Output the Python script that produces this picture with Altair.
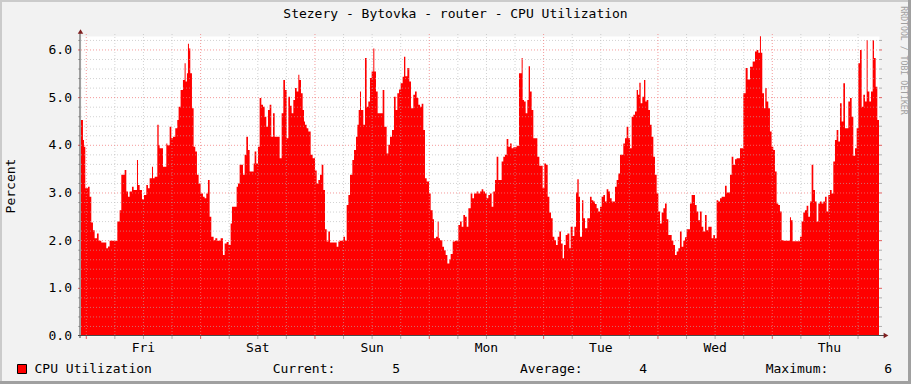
import altair as alt
import pandas as pd

MONO = "DejaVu Sans Mono"

# ---- data: hours since Friday 00:00, CPU utilization (%) ----
hours = [
    -1.12, -0.70, -0.49, -0.21, 0.35, 0.70, 1.05, 1.40, 1.75, 2.24, 2.59, 3.15, 4.20, 4.55, 4.90,
    6.51, 7.00, 7.35, 8.05, 8.40, 8.75, 9.10, 9.59, 9.94, 10.64, 10.85, 11.20, 11.69, 12.11, 12.60,
    12.95, 13.30, 13.79, 14.00, 14.35, 14.91, 15.19, 15.40, 16.10, 16.80, 17.01, 17.50, 17.85, 18.20,
    18.68, 19.10, 19.38, 19.80, 20.29, 20.64, 20.85, 21.13, 21.34, 21.55, 21.83, 22.18, 22.53, 22.88,
    23.23, 23.58, 24.00, 24.49, 24.84, 25.19, 25.54, 25.89, 26.24, 26.73, 27.08, 27.50, 28.20, 28.69,
    29.04, 29.46, 29.88, 30.30, 30.58, 31.56, 31.84, 32.19, 32.89, 33.24, 33.59, 33.94, 34.29, 35.13,
    35.34, 35.69, 36.04, 36.39, 36.74, 37.09, 37.44, 37.79, 38.14, 38.49, 38.84, 39.19, 39.54, 40.59,
    41.01, 41.36, 41.71, 42.06, 42.41, 42.76, 43.11, 43.46, 43.81, 44.16, 44.51, 44.72, 45.07, 45.42,
    45.70, 45.91, 46.26, 46.61, 47.10, 47.52, 48.01, 48.36, 48.71, 49.06, 49.41, 49.76, 50.11, 50.46,
    50.81, 51.16, 52.56, 52.91, 53.26, 53.96, 54.31, 54.66, 55.01, 55.36, 55.85, 56.20, 56.62, 56.90,
    57.18, 57.45, 57.66, 58.15, 58.50, 58.85, 59.20, 59.55, 59.90, 60.25, 60.46, 60.81, 61.16, 62.21,
    62.56, 63.05, 63.40, 63.75, 64.17, 64.59, 64.94, 65.29, 65.64, 65.99, 66.41, 66.69, 66.97, 67.39,
    67.81, 68.16, 68.65, 69.00, 69.35, 69.70, 70.05, 70.40, 70.75, 71.10, 71.45, 71.94, 72.29, 72.71,
    72.99, 73.41, 73.76, 73.97, 74.25, 74.74, 75.09, 75.44, 75.79, 76.21, 76.49, 76.91, 77.40, 78.10,
    78.45, 78.80, 79.15, 79.50, 79.85, 80.20, 80.69, 81.04, 81.39, 81.95, 82.30,
    82.64, 82.99, 83.34, 83.69, 84.04, 84.39, 84.74, 85.09, 85.44, 85.79, 86.14, 86.49, 87.19, 87.54,
    87.89, 88.24, 88.59, 88.94, 89.29, 89.64, 90.34, 90.83, 91.39, 91.60, 91.88, 92.23, 92.58, 92.86,
    93.14, 93.49, 93.84, 94.68, 95.10, 95.80, 96.15, 96.50, 96.85, 97.20, 97.55, 97.90, 98.25, 98.60,
    98.95, 99.30, 99.65, 100.00, 100.28, 100.63, 100.98, 101.40, 101.68, 102.10, 102.45, 102.80,
    103.08, 103.36, 103.64, 104.06, 104.34, 104.69, 105.17, 105.73, 106.08, 106.43, 106.78, 107.13,
    107.48, 107.83, 108.18, 108.53, 108.88, 109.23, 109.58, 109.93, 110.28, 110.98, 111.33, 111.68,
    112.03, 112.73, 113.08, 113.43, 113.78, 114.13, 114.48, 114.83, 115.18, 115.53, 115.81, 116.09,
    116.37, 116.72, 117.07, 117.35, 117.63, 117.98, 118.33, 118.68, 119.03, 119.38, 119.73, 120.08,
    120.43, 120.78, 121.13, 121.48, 121.83, 122.18, 122.88, 123.23, 123.58, 123.93, 124.28,
    124.62, 124.97, 125.32, 125.67, 126.02, 126.72, 127.07, 127.77, 128.12, 128.47, 128.82, 129.17,
    129.52, 129.87, 130.22, 130.57, 131.27, 131.62, 131.97, 132.32, 132.67, 133.02, 133.37, 134.07,
    134.42, 135.12, 135.47, 135.82, 136.17, 136.52, 137.22, 137.92, 138.41, 138.83, 139.32, 139.88,
    140.37, 140.72, 141.07, 141.41, 141.62, 141.90, 142.26, 142.53, 142.81, 143.16, 143.51, 143.86,
    144.21, 144.56, 144.91, 145.26, 145.61, 145.96, 146.31, 147.71, 147.92, 148.27, 149.81, 150.16,
    150.51, 150.86, 151.21, 151.56, 151.91, 152.26, 152.61, 152.96, 153.31, 153.66, 154.01, 154.36,
    154.71, 155.06, 155.41, 155.76, 156.11, 156.46, 156.81, 157.16, 157.51, 157.86, 158.21, 158.56,
    158.91, 159.26, 159.96, 160.31, 160.66, 161.01, 161.36, 161.71, 162.06, 162.41, 162.76, 163.11,
    163.46, 163.81, 164.02, 164.37, 164.72, 165.07, 165.35, 165.70, 166.05, 166.40,
]
cpu = [
    4.53, 4.11, 3.97, 3.10, 3.13, 2.92, 2.38, 2.22, 2.05, 2.15, 2.00, 1.96, 1.84, 1.88, 2.00,
    2.40, 2.64, 3.38, 3.48, 3.03, 2.92, 3.03, 3.13, 3.06, 3.69, 3.17, 3.06, 2.87, 2.96, 3.17,
    3.10, 3.31, 3.55, 3.31, 3.34, 4.43, 4.00, 3.94, 3.55, 4.04, 4.00, 4.39, 4.15, 4.18,
    4.36, 4.53, 4.81, 5.16, 5.37, 5.72, 5.34, 5.51, 6.13, 6.03, 5.51, 4.78, 3.97, 3.87,
    3.38, 3.20, 2.99, 2.92, 2.89, 2.99, 3.27, 2.50, 2.08, 2.01, 2.05, 2.00, 2.05, 1.70,
    1.94, 1.97, 1.91, 2.36, 2.71, 3.13, 3.20, 3.59, 3.38, 3.80, 4.18, 3.90, 3.45, 3.62,
    3.87, 3.62, 3.97, 4.99, 4.85, 4.81, 4.60, 4.39, 4.74, 4.85, 4.18, 4.67, 4.18, 3.73,
    4.67, 5.37, 5.16, 4.15, 5.02, 4.83, 4.67, 4.95, 5.20, 5.13, 5.48, 5.37, 5.09, 4.74,
    4.50, 4.43, 4.36, 4.29, 3.80, 3.73, 3.47, 3.20, 3.27, 3.38, 3.59, 3.06, 2.24, 1.98,
    2.19, 1.96, 1.87, 1.98, 2.00, 2.08, 2.00, 2.75, 2.96, 3.38, 3.69, 3.90, 4.18, 4.43,
    4.74, 5.13, 4.74, 4.43, 5.83, 4.81, 4.92, 5.41, 5.55, 6.03, 5.55, 5.13, 4.67, 5.16,
    4.39, 3.83, 4.01, 4.18, 4.32, 5.02, 4.74, 5.09, 5.17, 5.30, 5.44, 5.86, 5.45, 5.62,
    5.34, 4.78, 5.06, 5.13, 4.99, 4.85, 4.81, 4.87, 4.32, 3.31, 3.24, 2.99, 2.64, 2.45,
    2.05, 2.08, 2.40, 2.05, 2.01, 1.87, 1.80, 1.70, 1.52, 1.61, 1.72, 1.98, 2.00, 2.33,
    2.40, 2.29, 2.54, 2.50, 2.29, 2.68, 2.99, 2.89, 2.99, 3.03, 2.99,
    3.03, 3.08, 3.03, 2.99, 2.89, 2.96, 2.99, 2.71, 3.03, 3.27, 3.76, 3.27, 3.66, 3.76,
    3.80, 4.13, 3.97, 4.04, 3.94, 3.96, 3.99, 5.51, 5.83, 4.95, 4.92, 4.67, 4.95, 5.66,
    5.13, 4.74, 4.15, 3.76, 3.57, 3.10, 3.62, 3.59, 2.92, 2.59, 2.47, 2.08, 2.01, 1.91,
    2.08, 2.19, 1.94, 1.63, 1.91, 2.12, 2.15, 1.84, 2.29, 2.10, 2.29, 3.01,
    3.29, 2.92, 2.08, 2.85, 2.47, 2.26, 2.47, 2.92, 2.85, 2.82, 2.77, 2.68,
    2.61, 2.71, 2.92, 2.96, 2.82, 3.08, 3.03, 2.89, 2.82, 3.13, 3.27, 3.41,
    3.80, 4.04, 4.15, 4.39, 4.15, 3.94, 4.60, 4.64, 4.71, 5.16, 5.06, 5.31,
    4.88, 5.02, 5.37, 4.92, 4.95, 4.74, 4.43, 4.18, 3.76, 3.38, 2.99, 2.61,
    2.36, 2.59, 2.68, 2.78, 2.45, 2.12, 2.00, 1.91, 1.70, 1.77, 1.84,
    2.19, 1.87, 2.00, 2.07, 2.24, 2.78, 2.96, 2.75, 2.61, 2.43, 2.61, 2.29,
    2.19, 2.54, 2.22, 2.29, 2.05, 2.12, 2.05, 2.85, 2.82, 2.89, 2.92, 3.15,
    3.01, 3.38, 3.76, 3.59, 3.71, 3.73, 3.94, 5.09, 5.62, 5.38, 5.65, 5.76,
    5.97, 6.00, 5.94, 6.29, 5.94, 5.09, 4.78, 5.20, 4.92, 4.78, 4.29, 3.97,
    3.90, 3.45, 2.78, 2.75, 2.61, 2.01, 2.00, 2.49, 2.43, 1.99, 2.08, 2.40,
    2.59, 2.64, 2.73, 2.50, 2.82, 3.59, 3.06, 2.82, 2.40, 2.78, 2.82, 2.78,
    2.82, 2.92, 2.61, 2.96, 3.06, 2.99, 3.66, 4.11, 4.32, 4.08, 4.88, 4.50,
    5.30, 4.36, 4.92, 4.99, 4.60, 3.78, 3.94, 4.36, 5.72, 6.00, 4.81, 5.06,
    4.92, 6.21, 5.13, 4.92, 5.13, 6.21, 5.83, 5.23, 4.53, 4.53,
]

day_names = ["Fri", "Sat", "Sun", "Mon", "Tue", "Wed", "Thu"]
day_noon = [12, 36, 60, 84, 108, 132, 156]
major_x = [0, 24, 48, 72, 96, 120, 144]
minor_x = [6, 12, 18, 30, 36, 42, 54, 60, 66, 78, 84, 90, 102, 108, 114, 126, 132, 138, 150, 156, 162]
major_y = [1, 2, 3, 4, 5, 6]
minor_y = [round(i * 0.2, 1) for i in range(1, 32) if i % 5 != 0]
y_labels = [0, 1, 2, 3, 4, 5, 6]

title_text = "Stezery - Bytovka - router - CPU Utilization"
legend_name = "CPU Utilization"
stats = [("Current:", "5"), ("Average:", "4"), ("Maximum:", "6")]

W, H = 798, 300
xs = alt.Scale(domain=[-1.11, 166.4], nice=False, zero=False)
ys = alt.Scale(domain=[0, 6.293], nice=False, zero=False)

df = pd.DataFrame({"h": hours, "v": cpu})

area = alt.Chart(df).mark_area(color="#ff0000", interpolate="step-after", clip=True).encode(
    x=alt.X("h:Q", scale=xs, axis=None),
    y=alt.Y("v:Q", scale=ys, axis=None),
)

GRAY = "#b4b4b4"
RED = "#f07878"

def hgrid(vals, color, op):
    return alt.Chart(pd.DataFrame({"g": vals})).mark_rule(
        color=color, opacity=op, strokeDash=[1, 2], strokeWidth=1
    ).encode(y=alt.Y("g:Q", scale=ys, axis=None), x=alt.value(0), x2=alt.value(W))

def vgrid(vals, color, op):
    return alt.Chart(pd.DataFrame({"g": vals})).mark_rule(
        color=color, opacity=op, strokeDash=[1, 2], strokeWidth=1
    ).encode(x=alt.X("g:Q", scale=xs, axis=None), y=alt.value(-2), y2=alt.value(H))

def yticks(vals, color, x0, x1):
    return alt.Chart(pd.DataFrame({"g": vals})).mark_rule(color=color, strokeWidth=1).encode(
        y=alt.Y("g:Q", scale=ys, axis=None), x=alt.value(x0), x2=alt.value(x1))

def xticks(vals, color):
    return alt.Chart(pd.DataFrame({"g": vals})).mark_rule(color=color, strokeWidth=1).encode(
        x=alt.X("g:Q", scale=xs, axis=None), y=alt.value(H), y2=alt.value(H + 3))

one = pd.DataFrame({"t": [""]})

def text(t, x, y, align="left", size=13, color="#000000", angle=0, baseline="alphabetic"):
    return alt.Chart(pd.DataFrame({"t": [t]})).mark_text(
        align=align, baseline=baseline, font=MONO, fontSize=size, color=color, angle=angle
    ).encode(x=alt.value(x), y=alt.value(y), text="t:N")

def prule(x, x2, y, y2, color, width=1):
    return alt.Chart(one).mark_rule(color=color, strokeWidth=width).encode(
        x=alt.value(x), x2=alt.value(x2), y=alt.value(y), y2=alt.value(y2))

day_lbl = alt.Chart(pd.DataFrame({"h": day_noon, "d": day_names})).mark_text(
    font=MONO, fontSize=13, color="#000000", align="center", baseline="alphabetic"
).encode(x=alt.X("h:Q", scale=xs, axis=None), y=alt.value(316), text="d:N")

y_lbl = alt.Chart(pd.DataFrame({"v": y_labels})).mark_text(
    font=MONO, fontSize=13, color="#000000", align="right", baseline="middle"
).encode(y=alt.Y("v:Q", scale=ys, axis=None), x=alt.value(-9), text=alt.Text("v:Q", format=".1f"))

arrow_up = alt.Chart(one).mark_point(shape="triangle-up", filled=True, color="#7f1f1f", size=30, opacity=1).encode(
    x=alt.value(-0.5), y=alt.value(-4.5))
arrow_right = alt.Chart(one).mark_point(shape="triangle-right", filled=True, color="#7f1f1f", size=30, opacity=1).encode(
    x=alt.value(805), y=alt.value(H - 0.5))

legend_box = alt.Chart(one).mark_rect(color="#ff0000", stroke="#000000", strokeWidth=1).encode(
    x=alt.value(-63.5), x2=alt.value(-54.5), y=alt.value(328.5), y2=alt.value(337.5))

layers = [
    area,
    hgrid(minor_y, GRAY, 0.6), vgrid(minor_x, GRAY, 0.6),
    hgrid(major_y, RED, 0.75), vgrid(major_x, RED, 0.75),
    yticks(minor_y, "#b0b0b0", -3, -1), yticks(major_y, "#e06060", -3, -1),
    yticks(minor_y, "#b0b0b0", W, W + 3), yticks(major_y, "#e06060", W, W + 3),
    xticks(minor_x, "#b0b0b0"), xticks(major_x, "#e06060"),
    prule(-1, -1, H + 2, -3, "#4a4a4a"),
    prule(-3, 803, H - 0.5, H - 0.5, "#4a4a4a"),
    arrow_up, arrow_right,
    day_lbl, y_lbl,
    text(title_text, 374.5, -18, align="center"),
    text("Percent", -70, 150, align="center", angle=270, baseline="middle"),
    text("RRDTOOL / TOBI OETIKER", 822, 24.5, align="center", size=8.2, color="#a0a0a0", angle=90, baseline="middle"),
    legend_box,
    text(legend_name, -46.5, 337),
    text(stats[0][0], 191.7, 337), text(stats[0][1], 319, 337, align="right"),
    text(stats[1][0], 439, 337), text(stats[1][1], 566, 337, align="right"),
    text(stats[2][0], 684.7, 337), text(stats[2][1], 811, 337, align="right"),
    # outer frame (shade)
    prule(-81, 830, -35, -35, "#cbcbcb", 2),
    prule(-80, -80, -36, 348, "#cbcbcb", 2),
    prule(828.5, 828.5, -36, 348, "#a0a0a0", 3),
    prule(-81, 830, 346.5, 346.5, "#a0a0a0", 3),
]

chart = alt.layer(*layers).properties(
    width=W, height=H,
    autosize=alt.AutoSizeParams(type="none"),
    padding={"left": 81, "top": 36, "right": 32, "bottom": 48},
    background="#f2f2f2",
).configure_view(fill="#ffffff", stroke="transparent")

chart.save("out.html", embed_options={"renderer": "svg", "actions": False})
